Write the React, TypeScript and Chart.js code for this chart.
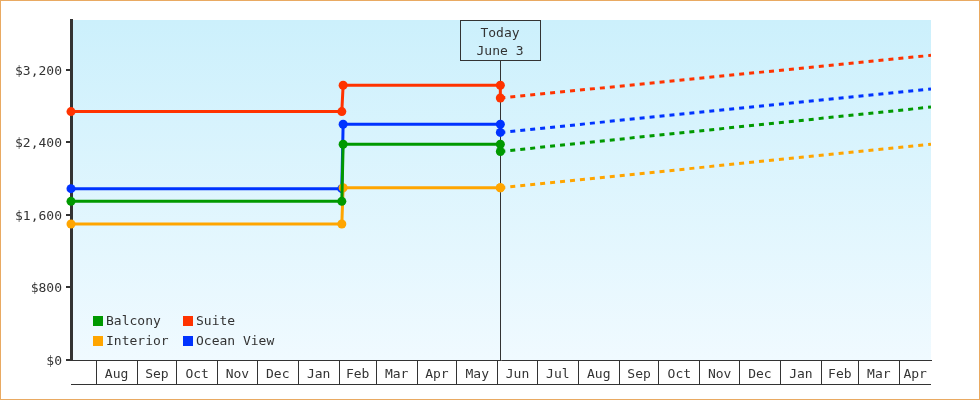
import React, { useEffect, useRef } from "react";
import { Chart, registerables } from "chart.js";

Chart.register(...registerables);

const FONT = "'DejaVu Sans Mono', 'Liberation Mono', monospace";
const INK = "#333333";

// room types, in legend order (row by row)
const roomTypes = ["Balcony", "Suite", "Interior", "Ocean View"];
const roomColors = ["#009900", "#ff3300", "#ffa500", "#0033ff"];

// past prices: flat, a jump in February, then the drop on "today"
const historyDates = ["2013-07-13", "2014-02-03", "2014-02-04", "2014-06-03", "2014-06-03"];
const balconyHistory = [1750, 1750, 2380, 2380, 2300];
const suiteHistory = [2740, 2740, 3030, 3030, 2890];
const interiorHistory = [1500, 1500, 1900, 1900, 1900];
const oceanViewHistory = [1890, 1890, 2600, 2600, 2510];

// projected prices (dashed)
const forecastDates = ["2014-06-03", "2015-04-25"];
const balconyForecast = [2300, 2790];
const suiteForecast = [2890, 3360];
const interiorForecast = [1900, 2380];
const oceanViewForecast = [2510, 2990];

// x axis
const axisStart = "2013-07-13";
const axisEnd = "2015-04-25";
const firstMonth = "2013-08-01";
const monthLabels = [
    "Aug", "Sep", "Oct", "Nov", "Dec", "Jan", "Feb", "Mar", "Apr", "May", "Jun",
    "Jul", "Aug", "Sep", "Oct", "Nov", "Dec", "Jan", "Feb", "Mar", "Apr",
];

// y axis
const priceTicks = [0, 800, 1600, 2400, 3200];
const priceMax = 3750;

const todayDate = "2014-06-03";
const todayText = ["Today", "June 3"];

const DAY = 86400000;
const toDay = (s: string) =>
    Date.UTC(+s.slice(0, 4), +s.slice(5, 7) - 1, +s.slice(8, 10)) / DAY;

const historySeries = [balconyHistory, suiteHistory, interiorHistory, oceanViewHistory];
const forecastSeries = [balconyForecast, suiteForecast, interiorForecast, oceanViewForecast];

const money = (v: number) => "$" + v.toLocaleString("en-US");

const buildMonthTicks = () => {
    const fy = +firstMonth.slice(0, 4);
    const fm = +firstMonth.slice(5, 7) - 1;
    const end = toDay(axisEnd);
    const starts = monthLabels.map((_, i) => Date.UTC(fy, fm + i, 1) / DAY);
    const ticks: any[] = [];
    starts.forEach((s, i) => {
        const next = i + 1 < starts.length ? starts[i + 1] : end;
        ticks.push({ value: s, kind: "edge", text: "" });
        ticks.push({ value: (s + Math.min(next, end)) / 2, kind: "label", text: monthLabels[i] });
    });
    return ticks.sort((a, b) => a.value - b.value);
};

const chartDecor = {
    id: "chartDecor",
    beforeDraw(chart: any) {
        const { ctx, chartArea: a, width, height } = chart;
        ctx.save();
        ctx.fillStyle = "#ffffff";
        ctx.fillRect(0, 0, width, height);
        const g = ctx.createLinearGradient(0, a.top, 0, a.bottom);
        g.addColorStop(0, "#ccf0fc");
        g.addColorStop(1, "#f0faff");
        ctx.fillStyle = g;
        ctx.fillRect(a.left, a.top, a.right - a.left, a.bottom - a.top);
        ctx.strokeStyle = "#e9aa62";
        ctx.lineWidth = 1;
        ctx.strokeRect(0.5, 0.5, width - 1, height - 1);
        ctx.restore();
    },
    beforeDatasetsDraw(chart: any) {
        const { ctx, chartArea: a, scales } = chart;
        const x = Math.round(scales.x.getPixelForValue(toDay(todayDate))) + 0.5;
        ctx.save();
        ctx.strokeStyle = INK;
        ctx.lineWidth = 1;
        ctx.beginPath();
        ctx.moveTo(x, a.top + 40);
        ctx.lineTo(x, a.bottom);
        ctx.stroke();
        ctx.restore();
    },
    afterDraw(chart: any) {
        const { ctx, chartArea: a, scales } = chart;
        const xs = scales.x;
        ctx.save();
        // bottom rule of the month row
        ctx.strokeStyle = INK;
        ctx.lineWidth = 1;
        ctx.beginPath();
        ctx.moveTo(a.left, Math.round(xs.bottom) - 0.5);
        ctx.lineTo(a.right, Math.round(xs.bottom) - 0.5);
        ctx.stroke();

        // today box
        const x = Math.round(xs.getPixelForValue(toDay(todayDate)));
        ctx.strokeRect(x - 40 + 0.5, a.top + 0.5, 80, 40);
        ctx.fillStyle = INK;
        ctx.font = "13px " + FONT;
        ctx.textAlign = "center";
        ctx.textBaseline = "middle";
        ctx.fillText(todayText[0], x, a.top + 13.5);
        ctx.fillText(todayText[1], x, a.top + 31.5);

        // legend, two columns inside the plot
        ctx.textAlign = "left";
        chart.data.datasets.slice(0, roomTypes.length).forEach((ds: any, i: number) => {
            const lx = a.left + 22 + (i % 2) * 90;
            const ly = a.bottom - 44 + Math.floor(i / 2) * 20;
            ctx.fillStyle = ds.borderColor;
            ctx.fillRect(lx, ly, 10, 10);
            ctx.fillStyle = INK;
            ctx.fillText(ds.label, lx + 13, ly + 6);
        });
        ctx.restore();
    },
};

const App: React.FC = () => {
    const chartRef = useRef<HTMLCanvasElement | null>(null);
    const chartInstance = useRef<Chart | null>(null);

    useEffect(() => {
        if (!chartRef.current) return;
        const ctx = chartRef.current.getContext("2d");
        if (!ctx) return;

        const history = roomTypes.map((name, i) => ({
            label: name,
            data: historyDates.map((d, j) => ({ x: toDay(d), y: historySeries[i][j] })),
            borderColor: roomColors[i],
            backgroundColor: roomColors[i],
            borderWidth: 3,
            pointRadius: 4.5,
            pointBorderWidth: 0,
            pointBackgroundColor: roomColors[i],
            tension: 0,
            clip: false,
        }));
        const forecast = roomTypes.map((name, i) => ({
            label: name + " forecast",
            data: forecastDates.map((d, j) => ({ x: toDay(d), y: forecastSeries[i][j] })),
            borderColor: roomColors[i],
            backgroundColor: roomColors[i],
            borderWidth: 3,
            borderDash: [5, 5],
            pointRadius: 0,
            tension: 0,
        }));

        const monthTicks = buildMonthTicks();

        chartInstance.current = new Chart(ctx, {
            type: "line",
            data: { datasets: [...history, ...forecast] as any },
            options: {
                animation: false,
                responsive: true,
                maintainAspectRatio: false,
                layout: { padding: { left: 0, top: 20, right: 49, bottom: 15 } },
                plugins: { legend: { display: false }, tooltip: { enabled: false } },
                font: { family: FONT, size: 13 },
                scales: {
                    x: {
                        type: "linear",
                        min: toDay(axisStart),
                        max: toDay(axisEnd),
                        bounds: "data",
                        afterBuildTicks: (axis: any) => {
                            axis.ticks = monthTicks.map((t) => ({ ...t }));
                        },
                        afterFit: (axis: any) => {
                            axis.height = 25;
                        },
                        grid: {
                            drawOnChartArea: false,
                            tickLength: 25,
                            lineWidth: 1,
                            color: (c: any) =>
                                c.tick && c.tick.kind === "edge" ? INK : "rgba(0,0,0,0)",
                        },
                        border: { display: true, color: INK, width: 1 },
                        ticks: {
                            autoSkip: false,
                            maxRotation: 0,
                            minRotation: 0,
                            padding: -18,
                            color: INK,
                            font: { family: FONT, size: 13 },
                            callback: (_v: any, i: number, ticks: any[]) => ticks[i].text,
                        },
                    },
                    y: {
                        min: 0,
                        max: priceMax,
                        afterBuildTicks: (axis: any) => {
                            axis.ticks = priceTicks.map((v) => ({ value: v }));
                        },
                        afterFit: (axis: any) => {
                            axis.width = 71;
                        },
                        grid: {
                            drawOnChartArea: false,
                            tickLength: 5,
                            lineWidth: 2,
                            color: INK,
                        },
                        border: { display: true, color: INK, width: 3 },
                        ticks: {
                            padding: 4,
                            labelOffset: 1.5,
                            color: INK,
                            font: { family: FONT, size: 13 },
                            callback: (v: any) => money(Number(v)),
                        },
                    },
                },
            } as any,
            plugins: [chartDecor],
        });

        return () => {
            if (chartInstance.current) {
                chartInstance.current.destroy();
                chartInstance.current = null;
            }
        };
    }, []);

    return (
        <div style={{ position: "fixed", left: 0, top: 0, width: 980, height: 400 }}>
            <canvas ref={chartRef}></canvas>
        </div>
    );
};

export default App;
